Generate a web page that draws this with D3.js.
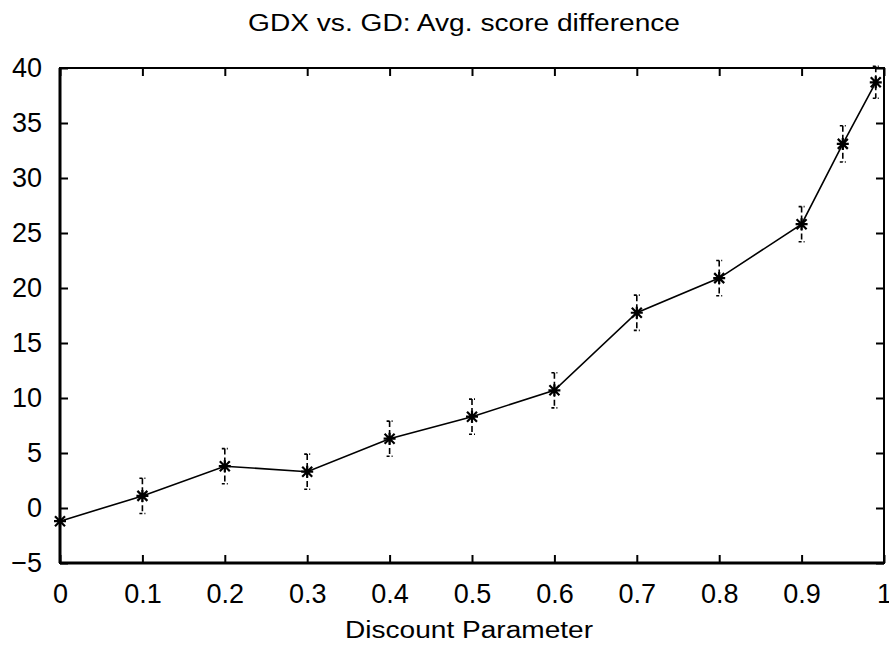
<!DOCTYPE html>
<html>
<head>
<meta charset="utf-8">
<script src="https://cdn.jsdelivr.net/npm/d3@7"></script>
<style>
  body { margin: 0; background: #fff; }
  text { font-family: "Liberation Sans", Arial, Helvetica, sans-serif; fill: #000; }
</style>
</head>
<body>
<div id="chart"></div>
<script>
// discount parameter values
var discount = [0, 0.1, 0.2, 0.3, 0.4, 0.5, 0.6, 0.7, 0.8, 0.9, 0.95, 0.99];
// average score difference GDX - GD
var scoreDiff = [-1.2, 1.1, 3.8, 3.3, 6.3, 8.3, 10.7, 17.75, 20.9, 25.8, 33.1, 38.7];
// error bar half widths
var scoreErr = [0, 1.6, 1.6, 1.6, 1.6, 1.6, 1.6, 1.6, 1.6, 1.6, 1.65, 1.45];

var xTicks = [0, 0.1, 0.2, 0.3, 0.4, 0.5, 0.6, 0.7, 0.8, 0.9, 1];
var yTicks = [-5, 0, 5, 10, 15, 20, 25, 30, 35, 40];

var W = 889, H = 648;
var margin = { left: 60, right: 5, top: 68, bottom: 85 };

var svg = d3.select("#chart").append("svg")
    .attr("width", W)
    .attr("height", H);

var x = d3.scaleLinear().domain([0, 1]).range([margin.left, W - margin.right]);
var y = d3.scaleLinear().domain([-5, 40]).range([H - margin.bottom, margin.top]);

var tickLen = 8;

// axes with inward ticks
svg.append("g")
    .attr("transform", "translate(0," + y(-5) + ")")
    .call(d3.axisBottom(x).tickValues(xTicks).tickSize(-tickLen).tickPadding(tickLen + 13)
        .tickFormat(function(d) { return d3.format("")(d); }));
svg.append("g")
    .attr("transform", "translate(" + x(0) + ",0)")
    .call(d3.axisLeft(y).tickValues(yTicks).tickSize(-tickLen).tickPadding(tickLen + 10));
svg.append("g")
    .attr("transform", "translate(0," + y(40) + ")")
    .call(d3.axisTop(x).tickValues(xTicks).tickSize(-tickLen).tickFormat(""));
svg.append("g")
    .attr("transform", "translate(" + x(1) + ",0)")
    .call(d3.axisRight(y).tickValues(yTicks).tickSize(-tickLen).tickFormat(""));

svg.selectAll(".domain").remove();
svg.selectAll(".tick line").attr("stroke", "#000").attr("stroke-width", 2);
svg.selectAll(".tick text")
    .style("font-size", "27px")
    .attr("fill", "#000");

// frame
svg.append("rect")
    .attr("x", x(0))
    .attr("y", y(40))
    .attr("width", x(1) - x(0))
    .attr("height", y(-5) - y(40))
    .attr("fill", "none")
    .attr("stroke", "#000")
    .attr("stroke-width", 2);
svg.append("line")
    .attr("x1", x(0)).attr("x2", x(0))
    .attr("y1", y(40)).attr("y2", y(-5))
    .attr("stroke", "#000").attr("stroke-width", 3);
svg.append("line")
    .attr("x1", x(0)).attr("x2", x(1))
    .attr("y1", y(-5)).attr("y2", y(-5))
    .attr("stroke", "#000").attr("stroke-width", 3);

var pts = discount.map(function(d, i) {
    return { x: d, y: scoreDiff[i], e: scoreErr[i] };
});

// error bars
var eb = svg.append("g").attr("class", "errbars")
    .selectAll("g")
    .data(pts.filter(function(d) { return d.e > 0; }))
    .enter().append("g");
eb.append("line")
    .attr("x1", function(d) { return x(d.x); })
    .attr("x2", function(d) { return x(d.x); })
    .attr("y1", function(d) { return y(d.y + d.e); })
    .attr("y2", function(d) { return y(d.y - d.e); })
    .attr("stroke", "#000")
    .attr("stroke-width", 1.6)
    .attr("stroke-dasharray", "6,3");
[1, -1].forEach(function(s) {
    eb.append("line")
        .attr("x1", function(d) { return x(d.x) - 3; })
        .attr("x2", function(d) { return x(d.x) + 3; })
        .attr("y1", function(d) { return y(d.y + s * d.e); })
        .attr("y2", function(d) { return y(d.y + s * d.e); })
        .attr("stroke", "#000")
        .attr("stroke-width", 1.6)
        .attr("stroke-dasharray", "3,2");
});

// line
var line = d3.line()
    .x(function(d) { return x(d.x); })
    .y(function(d) { return y(d.y); });
svg.append("path")
    .datum(pts)
    .attr("d", line)
    .attr("fill", "none")
    .attr("stroke", "#000")
    .attr("stroke-width", 1.6);

// asterisk markers
var star = svg.append("g").selectAll("g")
    .data(pts)
    .enter().append("g")
    .attr("transform", function(d) { return "translate(" + x(d.x) + "," + y(d.y) + ")"; });
star.append("path")
    .attr("d", "M-6,0H6M0,-6V6M-5,-5L5,5M-5,5L5,-5")
    .attr("stroke", "#000")
    .attr("stroke-width", 2.2);

// title and axis label
svg.append("text")
    .attr("x", 464)
    .attr("y", 31)
    .attr("text-anchor", "middle")
    .attr("textLength", 432)
    .attr("lengthAdjust", "spacingAndGlyphs")
    .style("font-size", "23px")
    .text("GDX vs. GD: Avg. score difference");
svg.append("text")
    .attr("x", 469)
    .attr("y", 638)
    .attr("text-anchor", "middle")
    .attr("textLength", 248)
    .attr("lengthAdjust", "spacingAndGlyphs")
    .style("font-size", "23px")
    .text("Discount Parameter");
</script>
</body>
</html>
